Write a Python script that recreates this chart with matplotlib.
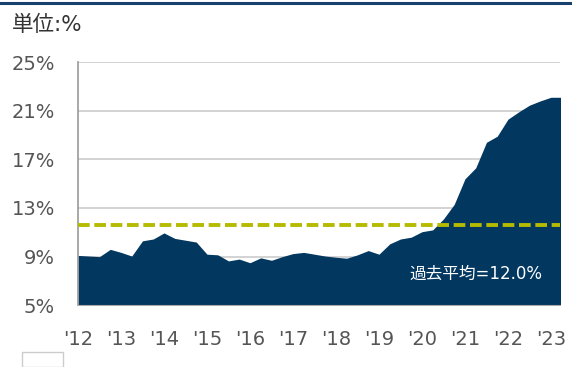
import matplotlib.pyplot as plt
import matplotlib.patches as mpatches
from matplotlib.lines import Line2D

plt.rcParams['font.family'] = ['DejaVu Sans', 'Noto Sans CJK JP']

# quarterly values, 2012Q1 - 2023Q2 (%)
quarters = [2012 + i / 4 for i in range(46)]
values = [9.1, 9.05, 9.0, 9.6, 9.35, 9.05, 10.3, 10.45, 10.95, 10.5,
          10.35, 10.2, 9.2, 9.15, 8.65, 8.8, 8.5, 8.9, 8.7, 9.0,
          9.25, 9.35, 9.2, 9.05, 8.95, 8.87, 9.15, 9.5, 9.2, 10.05,
          10.45, 10.6, 11.05, 11.2, 12.1, 13.3, 15.4, 16.3, 18.4, 18.9,
          20.3, 20.9, 21.45, 21.8, 22.1, 22.1]
average = 11.6
y_ticks = [5, 9, 13, 17, 21, 25]
y_labels = ["5%", "9%", "13%", "17%", "21%", "25%"]
years = list(range(2012, 2024))
year_labels = ["'" + str(y)[2:] for y in years]

fig = plt.figure(figsize=(5.72, 3.67), dpi=100)
ax = fig.add_axes([78 / 572, 1 - 305.3 / 367, 482 / 572, 243.3 / 367])

ax.fill_between(quarters, 5, values, color="#02375f", lw=0, zorder=2)
ax.axhline(average, color="#b4bb00", lw=2.8, dashes=(3, 1.2), zorder=3)
ax.text(2022.79, 7.55, "過去平均=12.0%", color="white", fontsize=12,
        ha="right", va="center", family=["DejaVu Sans", "Noto Sans CJK JP"], zorder=4)

ax.set_xlim(2012, 2023.21)
ax.set_ylim(5, 25)
ax.set_yticks(y_ticks)
ax.set_yticklabels(y_labels)
ax.set_xticks(years)
ax.set_xticklabels(year_labels)
ax.tick_params(axis="both", length=0, labelsize=14, colors="#555555")
ax.tick_params(axis="y", pad=16.5)
ax.tick_params(axis="x", pad=18)
ax.grid(axis="y", color="#cccccc", lw=1.2, zorder=1)
for s in ["top", "right"]:
    ax.spines[s].set_visible(False)
ax.spines["left"].set_color("#999999")
ax.spines["bottom"].set_color("#aaaaaa")
ax.spines["left"].set_linewidth(1.2)

fig.text(12 / 572, 1 - 25 / 367, "単位:%", fontsize=15.5, color="#333333",
         va="center", ha="left", family=["DejaVu Sans", "Noto Sans CJK JP"])

# top rule
fig.add_artist(Line2D([0, 1], [1 - 3 / 367, 1 - 3 / 367], color="#17406d", lw=2.2))
# small box bottom left
fig.add_artist(mpatches.Rectangle((22 / 572, 0), 41 / 572, 15 / 367,
                                  fill=False, ec="#cccccc", lw=1))

fig.savefig("out.png", dpi=100)
